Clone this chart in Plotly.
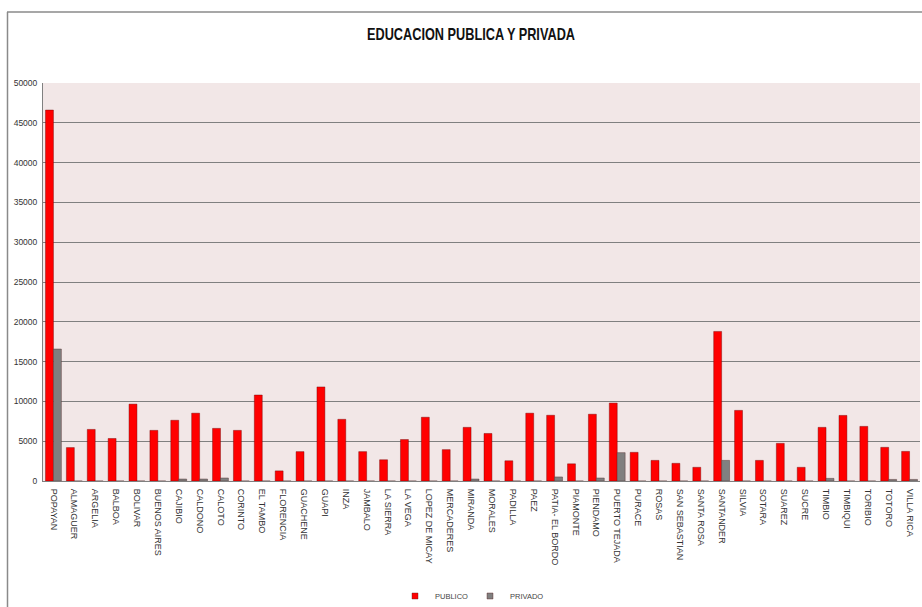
import plotly.graph_objects as go

categories = ["POPAYAN", "ALMAGUER", "ARGELIA", "BALBOA", "BOLIVAR", "BUENOS AIRES",
              "CAJIBIO", "CALDONO", "CALOTO", "CORINTO", "EL TAMBO", "FLORENCIA",
              "GUACHENE", "GUAPI", "INZA", "JAMBALO", "LA SIERRA", "LA VEGA",
              "LOPEZ DE MICAY", "MERCADERES", "MIRANDA", "MORALES", "PADILLA", "PAEZ",
              "PATIA- EL BORDO", "PIAMONTE", "PIENDAMO", "PUERTO TEJADA", "PURACE",
              "ROSAS", "SAN SEBASTIAN", "SANTA ROSA", "SANTANDER", "SILVIA", "SOTARA",
              "SUAREZ", "SUCRE", "TIMBIO", "TIMBIQUI", "TORIBIO", "TOTORO", "VILLA RICA"]

publico = [46600, 4200, 6480, 5340, 9660, 6360,
           7630, 8520, 6610, 6360, 10800, 1270,
           3690, 11820, 7750, 3690, 2670, 5210,
           8010, 3940, 6740, 5970, 2540, 8520,
           8260, 2160, 8390, 9790, 3600,
           2590, 2220, 1720, 18790, 8870, 2590,
           4730, 1720, 6740, 8240, 6860, 4230, 3720]

privado = [16580, 0, 0, 0, 0, 0,
           250, 250, 380, 0, 0, 0,
           0, 0, 0, 0, 0, 0,
           0, 0, 250, 0, 0, 0,
           510, 0, 380, 3560, 0,
           0, 0, 0, 2590, 0, 0,
           0, 0, 330, 0, 0, 200, 200]

y_ticks = list(range(0, 50001, 5000))

W, H = 922, 607
L, R, T, B = 43, 2, 83, 126
pw = W - L - R
ph = H - T - B

RED = "#FF0000"
GRAY = "#808080"

def px_x(x):
    return (x - L) / pw

def px_y(y):
    return (H - B - y) / ph

fig = go.Figure()
fig.add_trace(go.Bar(
    x=categories, y=publico, name="PUBLICO", showlegend=False,
    marker=dict(color=RED, line=dict(color="rgba(110,0,0,0.7)", width=0.6)),
))
fig.add_trace(go.Bar(
    x=categories, y=privado, name="PRIVADO", showlegend=False,
    marker=dict(color=GRAY, line=dict(color="rgba(80,40,40,0.7)", width=0.6)),
))
# compact legend entries
for nm, col in (("PUBLICO", RED), ("PRIVADO", GRAY)):
    fig.add_trace(go.Scatter(
        x=[None], y=[None], mode="markers", name=nm,
        marker=dict(symbol="square", size=6, color=col, line=dict(width=0.5, color="rgba(90,30,30,0.8)")),
    ))

fig.update_layout(
    width=W, height=H,
    margin=dict(l=L, r=R, t=T, b=B, autoexpand=False),
    paper_bgcolor="white",
    plot_bgcolor="#F2E7E7",
    barmode="group",
    bargap=0.24,
    bargroupgap=0.0,
    title=dict(text="EDUCACION PUBLICA Y PRIVADA", x=px_x(471), xref="paper",
               y=1 - 34 / H, yanchor="middle", xanchor="center",
               font=dict(family="Liberation Sans, Arial", size=17, color="#111")),
    legend=dict(orientation="h", x=px_x(470), xanchor="center", y=px_y(596), yanchor="middle",
                font=dict(family="Liberation Sans, Arial", size=7.5, color="#444"),
                itemwidth=30, entrywidth=30, entrywidthmode="pixels",
                bgcolor="rgba(0,0,0,0)", traceorder="normal",
                tracegroupgap=0, itemsizing="trace"),
    showlegend=True,
    font=dict(family="Liberation Sans, Arial"),
)

fig.update_xaxes(
    tickangle=90, tickfont=dict(size=9, color="#333", family="Liberation Sans, Arial"),
    showline=True, linecolor="#808080", linewidth=1, ticks="", showgrid=False,
    range=[-0.5, len(categories) - 0.5], automargin=False, ticklabelstandoff=5,
)
fig.update_yaxes(
    range=[0, 50000], tickvals=y_ticks, ticktext=[str(v) for v in y_ticks],
    tickfont=dict(size=8.5, color="#333", family="Liberation Sans, Arial"),
    showgrid=True, gridcolor="#808080", gridwidth=1,
    showline=True, linecolor="#808080", linewidth=1, ticks="", zeroline=False,
    automargin=False, ticklabelstandoff=3,
)

# outer chart frame (top and left visible)
fig.add_shape(type="line", xref="paper", yref="paper",
              x0=px_x(7), x1=px_x(922), y0=px_y(12), y1=px_y(12),
              line=dict(color="#8a8a8a", width=1.5))
fig.add_shape(type="line", xref="paper", yref="paper",
              x0=px_x(7.5), x1=px_x(7.5), y0=px_y(12), y1=px_y(607),
              line=dict(color="#8a8a8a", width=1.5))

post = """
document.body.style.margin='0';
var t=document.querySelector('.gtitle');
if(t){t.setAttribute('textLength','208');t.setAttribute('lengthAdjust','spacingAndGlyphs');t.style.fontWeight='bold';}
"""
fig.write_html("out.html", post_script=post, config={"displayModeBar": False})
